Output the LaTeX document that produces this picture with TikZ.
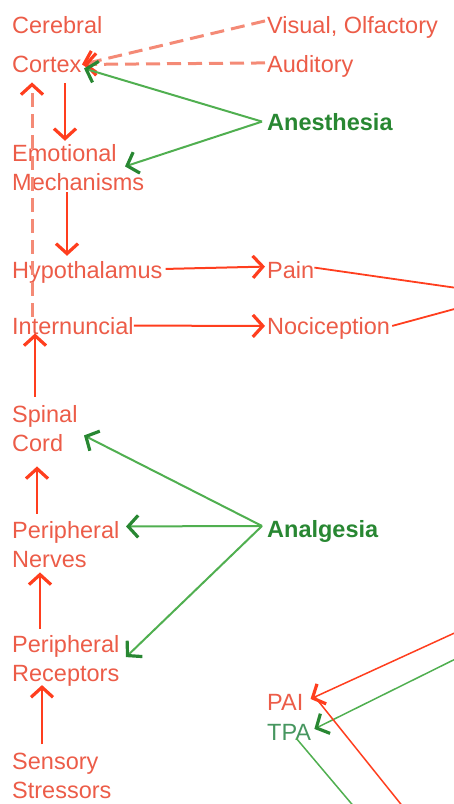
\documentclass[tikz,border=0pt]{standalone}
\usepackage{fontspec}
\setmainfont{Liberation Sans}
\usetikzlibrary{arrows.meta,positioning,calc}
\usepackage{xcolor}
\definecolor{painred}{RGB}{236,92,72}
\definecolor{tipred}{RGB}{255,62,30}
\definecolor{dashred}{RGB}{244,138,118}
\definecolor{reliefgreen}{RGB}{40,135,50}
\definecolor{linegreen}{RGB}{80,175,80}
\definecolor{tpagreen}{RGB}{70,150,95}

\begin{document}
\begin{tikzpicture}[
        x=1pt, y=-1pt,
        term/.style={anchor=base west, inner sep=0pt, text=painred, align=left, font=\fontsize{23.5}{29}\selectfont},
        agent/.style={term, text=reliefgreen, font=\fontsize{23.5}{29}\selectfont\bfseries},
        arrow/.style={-{Straight Barb[length=10pt, width=22pt, line width=3.2pt, color=tipred]}, draw=tipred, line width=2pt},
        dasharrow/.style={arrow, draw=dashred, line width=3pt, dash pattern=on 14pt off 7pt},
        garrow/.style={-{Straight Barb[length=10pt, width=22pt, line width=3.2pt, color=reliefgreen]}, draw=linegreen, line width=2pt},
        link/.style={draw=tipred, line width=1.8pt},
        glink/.style={draw=linegreen, line width=1.8pt}
    ]
        \clip (0,0) rectangle (454,804);

        % Nodes
        \node[term] (cortex) at (12,72) {Cerebral\\[10pt]Cortex};
        \node[term] (visual) at (267,33) {Visual, Olfactory};
        \node[term] (auditory) at (267,72) {Auditory};
        \node[agent] (anesth) at (267,130) {Anesthesia};
        \node[term] (emotion) at (12,190) {Emotional\\Mechanisms};
        \node[term] (hypo) at (12,278) {Hypothalamus};
        \node[term] (pain) at (267,278) {Pain};
        \node[term] (intern) at (12,334) {Internuncial};
        \node[term] (nocicept) at (267,334) {Nociception};
        \node[term] (spinal) at (12,451) {Spinal\\Cord};
        \node[agent] (analg) at (267,537) {Analgesia};
        \node[term] (pnerves) at (12,567) {Peripheral\\Nerves};
        \node[term] (precept) at (12,681) {Peripheral\\Receptors};
        \node[term] (pai) at (267,710) {PAI};
        \node[term, text=tpagreen] (tpa) at (267,740) {TPA};
        \node[term] (stress) at (12,798) {Sensory\\Stressors};

        % Off-picture ends
        \coordinate (painjoin) at (506,295);
        \coordinate (paisrc) at (520,603);
        \coordinate (tpasrc) at (520,627);
        \coordinate (paiout) at (420,828);
        \coordinate (tpaout) at (372,828);

        % Senses and anesthesia
        \draw[dasharrow] ([shift={(-2,-6)}]visual.west) -- ([shift={(70,-8)}]cortex.south west);
        \draw[dasharrow] ([shift={(-2,-3)}]auditory.west) -- ([shift={(72,-8)}]cortex.south west);
        \draw[garrow] ([shift={(-5,0)}]anesth.west) -- ([shift={(72,-4)}]cortex.south west);
        \draw[garrow] ([shift={(-5,0)}]anesth.west) -- ([shift={(113,-24)}]emotion.south west);

        % Left column
        \draw[arrow] ([shift={(53,11)}]cortex.south west) -- ([shift={(53,-3)}]emotion.north west);
        \draw[dasharrow] ([shift={(20,0)}]intern.north west) -- ([shift={(20,10)}]cortex.south west);
        \draw[arrow] ([shift={(55,2)}]emotion.south west) -- ([shift={(55,-5)}]hypo.north west);
        \draw[arrow] ([shift={(23,-8)}]spinal.north west) -- ([shift={(23,-1)}]intern.south west);
        \draw[arrow] ([shift={(25,-7)}]pnerves.north west) -- ([shift={(25,15)}]spinal.south west);
        \draw[arrow] ([shift={(28,-6)}]precept.north west) -- ([shift={(28,5)}]pnerves.south west);
        \draw[arrow] ([shift={(30,-8)}]stress.north west) -- ([shift={(30,-1)}]precept.south west);

        % Pain and nociception
        \draw[arrow] ([shift={(3,-3)}]hypo.east) -- ([shift={(-2,-3)}]pain.west);
        \draw[arrow] (intern.east) -- ([shift={(-2,-2)}]nocicept.west);
        \draw[link] ([shift={(0,-2)}]pain.east) -- (painjoin);
        \draw[link] ([shift={(2,-2)}]nocicept.east) -- (painjoin);

        % Analgesia
        \draw[garrow] ([shift={(-5,-5)}]analg.west) -- ([shift={(72,-16)}]spinal.south west);
        \draw[garrow] ([shift={(-5,-5)}]analg.west) -- ([shift={(114,-41)}]pnerves.south west);
        \draw[garrow] ([shift={(-5,-5)}]analg.west) -- ([shift={(114,-29)}]precept.south west);

        % PAI and TPA
        \draw[arrow, line width=1.5pt] (paisrc) -- ([shift={(7,-3)}]pai.east);
        \draw[garrow, line width=1.5pt] (tpasrc) -- ([shift={(3,-3)}]tpa.east);
        \draw[link, line width=1.5pt] ([shift={(9,-8)}]pai.east) -- (paiout);
        \draw[glink, line width=1.5pt] ([shift={(7,-2)}]tpa.south) -- (tpaout);
    \end{tikzpicture}
\end{document}
